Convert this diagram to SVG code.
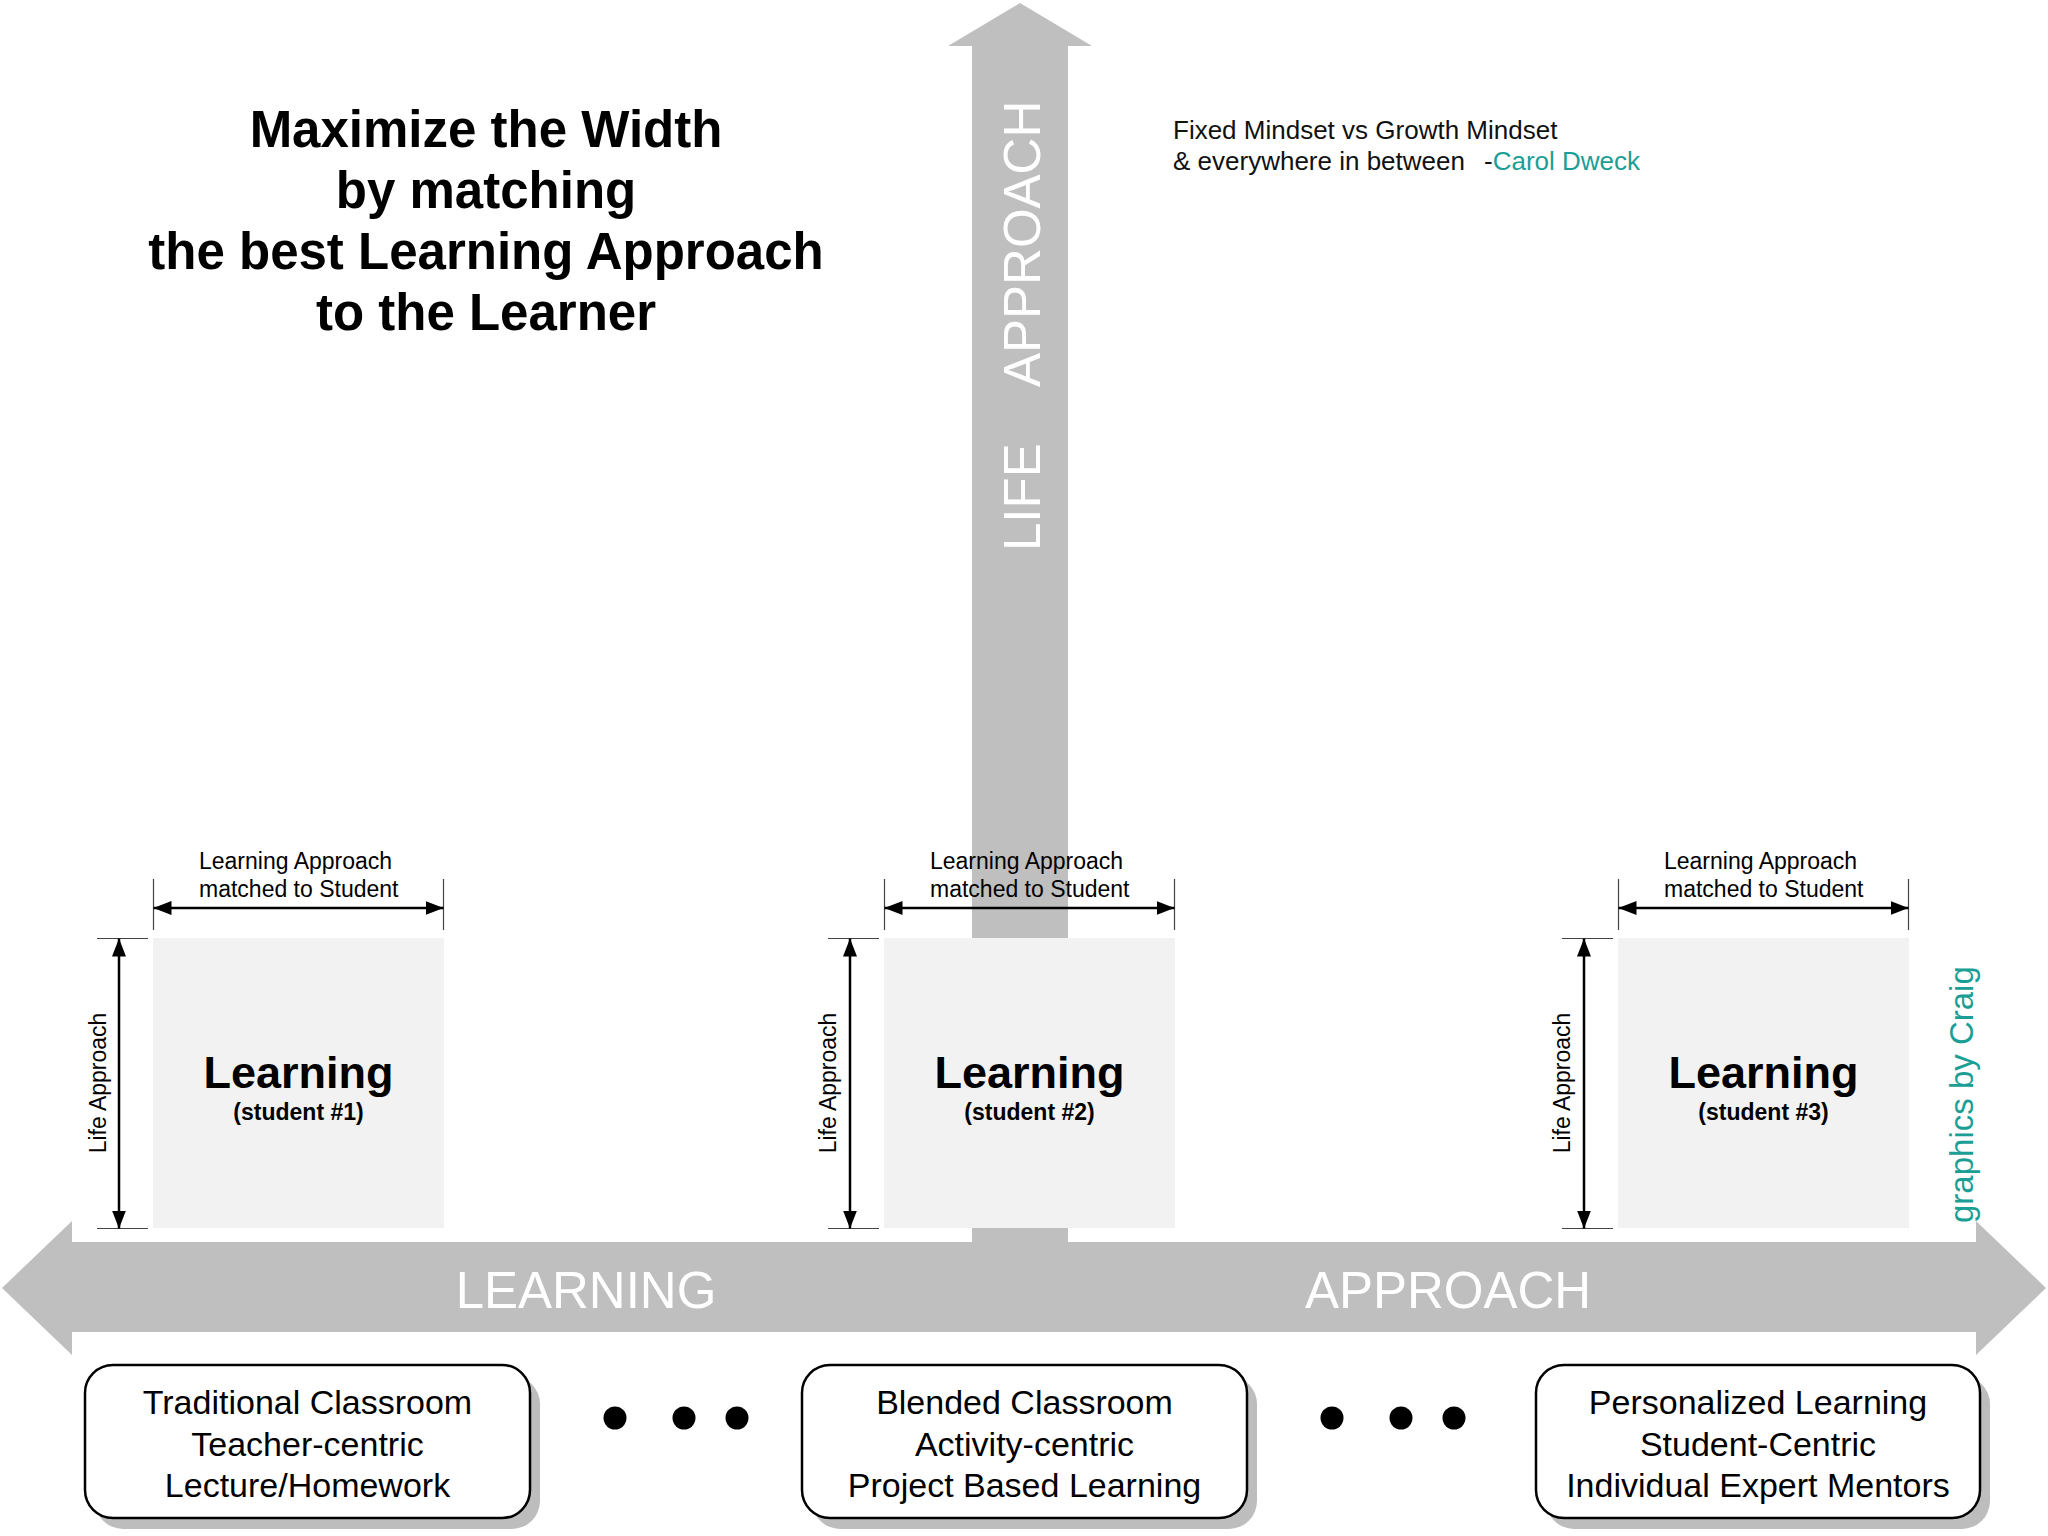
<svg xmlns="http://www.w3.org/2000/svg" width="2048" height="1536" viewBox="0 0 2048 1536">
  <style>
    text { font-family: "Liberation Sans", Arial, sans-serif; }
    .title { font-size: 51px; font-weight: bold; fill: #000; text-anchor: middle; }
    .quote { font-size: 26px; fill: #111; }
    .teal { fill: #1a9e96; }
    .bigw { font-size: 51px; fill: #fff; }
    .dim { font-size: 23px; fill: #000; }
    .lbl { font-size: 45px; font-weight: bold; text-anchor: middle; fill: #000; }
    .sub { font-size: 23px; font-weight: bold; text-anchor: middle; fill: #000; }
    .btxt { font-size: 34px; text-anchor: middle; fill: #000; }
    .sq { fill: #f2f2f2; }
    .tick { stroke: #444; stroke-width: 1.2; }
    .darr { stroke: #000; stroke-width: 2.5; fill: none; marker-start: url(#ah); marker-end: url(#ah); }
    .card { fill: #fff; stroke: #000; stroke-width: 2.5; }
    .shadow { fill: #bdbdbd; }
    .gray { fill: #bfbfbf; }
  </style>
  <defs>
    <marker id="ah" viewBox="0 0 18 14" refX="18" refY="7" markerWidth="18" markerHeight="14" markerUnits="userSpaceOnUse" orient="auto-start-reverse">
      <path d="M0,0 L18,7 L0,14 z" fill="#000"/>
    </marker>
  </defs>
  <rect width="2048" height="1536" fill="#fff"/>

  <g id="axis-life-approach">
    <polygon class="gray" points="1020,3 1092,46 1068,46 1068,1250 972,1250 972,46 948,46"/>
    <g transform="translate(1040,551) rotate(-90)">
      <text class="bigw" x="0" y="0">LIFE</text>
      <text class="bigw" x="164" y="0">APPROACH</text>
    </g>
  </g>

  <g id="axis-learning-approach">
    <polygon class="gray" points="2,1288 72,1221 72,1242 1976,1242 1976,1221 2046,1288 1976,1355 1976,1332 72,1332 72,1355"/>
    <text class="bigw" x="586" y="1308" text-anchor="middle">LEARNING</text>
    <text class="bigw" x="1448" y="1308" text-anchor="middle">APPROACH</text>
  </g>

  <g id="title">
    <text class="title" x="486" y="147">Maximize the Width</text>
    <text class="title" x="486" y="208">by matching</text>
    <text class="title" x="486" y="269">the best Learning Approach</text>
    <text class="title" x="486" y="330">to the Learner</text>
  </g>

  <g id="quote">
    <text class="quote" x="1173" y="139">Fixed Mindset vs Growth Mindset</text>
    <text class="quote" x="1173" y="170">&amp; everywhere in between</text>
    <text class="quote" x="1484" y="170">-<tspan class="teal">Carol Dweck</tspan></text>
  </g>

  <g id="credit">
    <text class="teal" font-size="33" transform="translate(1973,1223) rotate(-90)">graphics by Craig</text>
  </g>

  <g id="student1">
    <rect class="sq" x="153" y="938" width="291" height="290"/>
    <text class="lbl" x="298.5" y="1088">Learning</text>
    <text class="sub" x="298.5" y="1120">(student #1)</text>
    <text class="dim" x="199" y="869">Learning Approach</text>
    <text class="dim" x="199" y="897">matched to Student</text>
    <text class="dim" text-anchor="middle" transform="translate(106,1083) rotate(-90)">Life Approach</text>
  </g>

  <g id="student2">
    <rect class="sq" x="884" y="938" width="291" height="290"/>
    <text class="lbl" x="1029.5" y="1088">Learning</text>
    <text class="sub" x="1029.5" y="1120">(student #2)</text>
    <text class="dim" x="930" y="869">Learning Approach</text>
    <text class="dim" x="930" y="897">matched to Student</text>
    <text class="dim" text-anchor="middle" transform="translate(836,1083) rotate(-90)">Life Approach</text>
  </g>

  <g id="student3">
    <rect class="sq" x="1618" y="938" width="291" height="290"/>
    <text class="lbl" x="1763.5" y="1088">Learning</text>
    <text class="sub" x="1763.5" y="1120">(student #3)</text>
    <text class="dim" x="1664" y="869">Learning Approach</text>
    <text class="dim" x="1664" y="897">matched to Student</text>
    <text class="dim" text-anchor="middle" transform="translate(1570,1083) rotate(-90)">Life Approach</text>
  </g>

  <g id="connectors">
    <line class="tick" x1="153.5" y1="879" x2="153.5" y2="930"/>
    <line class="tick" x1="443.5" y1="879" x2="443.5" y2="930"/>
    <line class="darr" x1="153.5" y1="908" x2="443.5" y2="908"/>
    <line class="tick" x1="97" y1="938.5" x2="148" y2="938.5"/>
    <line class="tick" x1="97" y1="1228.5" x2="148" y2="1228.5"/>
    <line class="darr" x1="119" y1="938.5" x2="119" y2="1228.5"/>

    <line class="tick" x1="884.5" y1="879" x2="884.5" y2="930"/>
    <line class="tick" x1="1174.5" y1="879" x2="1174.5" y2="930"/>
    <line class="darr" x1="884.5" y1="908" x2="1174.5" y2="908"/>
    <line class="tick" x1="828" y1="938.5" x2="879" y2="938.5"/>
    <line class="tick" x1="828" y1="1228.5" x2="879" y2="1228.5"/>
    <line class="darr" x1="850" y1="938.5" x2="850" y2="1228.5"/>

    <line class="tick" x1="1618.5" y1="879" x2="1618.5" y2="930"/>
    <line class="tick" x1="1908.5" y1="879" x2="1908.5" y2="930"/>
    <line class="darr" x1="1618.5" y1="908" x2="1908.5" y2="908"/>
    <line class="tick" x1="1562" y1="938.5" x2="1613" y2="938.5"/>
    <line class="tick" x1="1562" y1="1228.5" x2="1613" y2="1228.5"/>
    <line class="darr" x1="1584" y1="938.5" x2="1584" y2="1228.5"/>
  </g>

  <g id="card-traditional">
    <rect class="shadow" x="95" y="1376" width="445" height="153" rx="28"/>
    <rect class="card" x="85" y="1365" width="445" height="153" rx="28"/>
    <text class="btxt" x="307.5" y="1414">Traditional Classroom</text>
    <text class="btxt" x="307.5" y="1455.5">Teacher-centric</text>
    <text class="btxt" x="307.5" y="1497">Lecture/Homework</text>
  </g>

  <g id="dots-1">
    <circle cx="615" cy="1418" r="11.5"/>
    <circle cx="684" cy="1418" r="11.5"/>
    <circle cx="737" cy="1418" r="11.5"/>
  </g>

  <g id="card-blended">
    <rect class="shadow" x="812" y="1376" width="445" height="153" rx="28"/>
    <rect class="card" x="802" y="1365" width="445" height="153" rx="28"/>
    <text class="btxt" x="1024.5" y="1414">Blended Classroom</text>
    <text class="btxt" x="1024.5" y="1455.5">Activity-centric</text>
    <text class="btxt" x="1024.5" y="1497">Project Based Learning</text>
  </g>

  <g id="dots-2">
    <circle cx="1332" cy="1418" r="11.5"/>
    <circle cx="1401" cy="1418" r="11.5"/>
    <circle cx="1454" cy="1418" r="11.5"/>
  </g>

  <g id="card-personalized">
    <rect class="shadow" x="1546" y="1376" width="444" height="153" rx="28"/>
    <rect class="card" x="1536" y="1365" width="444" height="153" rx="28"/>
    <text class="btxt" x="1758" y="1414">Personalized Learning</text>
    <text class="btxt" x="1758" y="1455.5">Student-Centric</text>
    <text class="btxt" x="1758" y="1497">Individual Expert Mentors</text>
  </g>
</svg>
